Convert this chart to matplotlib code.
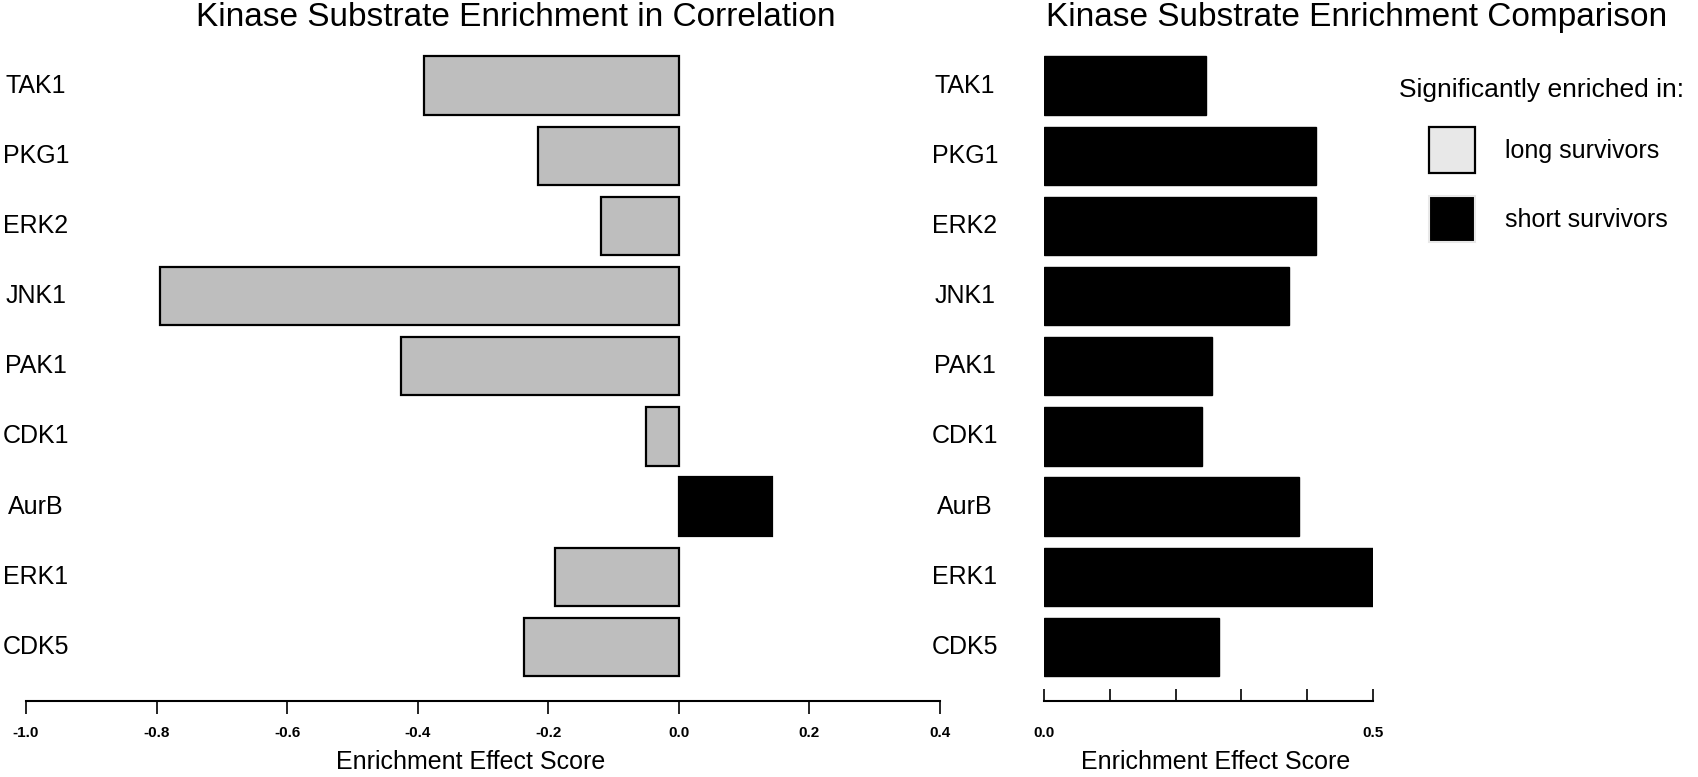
import matplotlib
matplotlib.use("Agg")
import matplotlib.pyplot as plt
from matplotlib.patches import Patch
from matplotlib.transforms import blended_transform_factory

plt.rcParams['font.family'] = ['Liberation Sans', 'DejaVu Sans']

kinases = ["TAK1", "PKG1", "ERK2", "JNK1", "PAK1", "CDK1", "AurB", "ERK1", "CDK5"]
correlation = [-0.39, -0.215, -0.12, -0.795, -0.425, -0.05, 0.143, -0.19, -0.237]
comparison = [0.247, 0.413, 0.413, 0.372, 0.255, 0.24, 0.387, 0.503, 0.266]
left_ticks = [-1.0, -0.8, -0.6, -0.4, -0.2, 0.0, 0.2, 0.4]
right_ticks = [0.0, 0.1, 0.2, 0.3, 0.4, 0.5]
right_ticklabels = ["0.0", "", "", "", "", "0.5"]

GRAY = "#bebebe"
LIGHT = "#e8e8e8"

fig = plt.figure(figsize=(16.98, 7.77), dpi=100)
bottom, height = 0.0978, 0.8463
ax1 = fig.add_axes([0.0153, bottom, 0.5383, height])
ax2 = fig.add_axes([0.6148, bottom, 0.1938, height])

ypos = list(range(len(kinases) - 1, -1, -1))

cols = [GRAY if v < 0 else "black" for v in correlation]
ax1.barh(ypos, correlation, height=0.83, color=cols, edgecolor="black", linewidth=1.6)
ax2.barh(ypos, comparison, height=0.83, color="black", edgecolor="black", linewidth=1.0)

for ax, xlim in ((ax1, (-1.0, 0.4)), (ax2, (0.0, 0.5))):
    ax.set_xlim(*xlim)
    ax.set_ylim(-0.77, 8.6)
    for s in ("top", "right", "left"):
        ax.spines[s].set_visible(False)
    ax.spines["bottom"].set_linewidth(1.5)
    ax.set_yticks([])
    ax.set_xlabel("Enrichment Effect Score", fontsize=18, labelpad=4)

ax1.tick_params(axis="x", length=9, width=1.2, pad=9, labelsize=11)
# right panel ticks point up into the plot
ax2.tick_params(axis="x", direction="in", length=9, width=1.2, pad=18, labelsize=11)

ax1.set_xticks(left_ticks)
ax1.set_xticklabels([f"{t:.1f}" for t in left_ticks], fontweight="bold")
ax2.set_xticks(right_ticks)
ax2.set_xticklabels(right_ticklabels, fontweight="bold")
ax1.xaxis.set_label_coords(0.486, -0.075)
ax2.xaxis.set_label_coords(0.523, -0.075)

# kinase names
for ax, xc in ((ax1, 0.0212), (ax2, 0.5683)):
    tr = blended_transform_factory(fig.transFigure, ax.transData)
    for y, name in zip(ypos, kinases):
        ax.text(xc, y, name, transform=tr, ha="center", va="center", fontsize=18)

fig.text(0.3035, 0.977, "Kinase Substrate Enrichment in Correlation", ha="center", va="center", fontsize=24)
fig.text(0.799, 0.977, "Kinase Substrate Enrichment Comparison", ha="center", va="center", fontsize=24)

# legend
fig.text(0.824, 0.884, "Significantly enriched in:", ha="left", va="center", fontsize=19)
handles = [Patch(facecolor=LIGHT, edgecolor="black", linewidth=1.6),
           Patch(facecolor="black", edgecolor=LIGHT, linewidth=1.5)]
fig.legend(handles, ["long survivors", "short survivors"],
           loc="upper left", bbox_to_anchor=(0.8416, 0.836), frameon=False, fontsize=18,
           borderpad=0, borderaxespad=0, handlelength=1.85, handleheight=2.45,
           handletextpad=1.2, labelspacing=0.92)

fig.savefig("out.png", dpi=100)
